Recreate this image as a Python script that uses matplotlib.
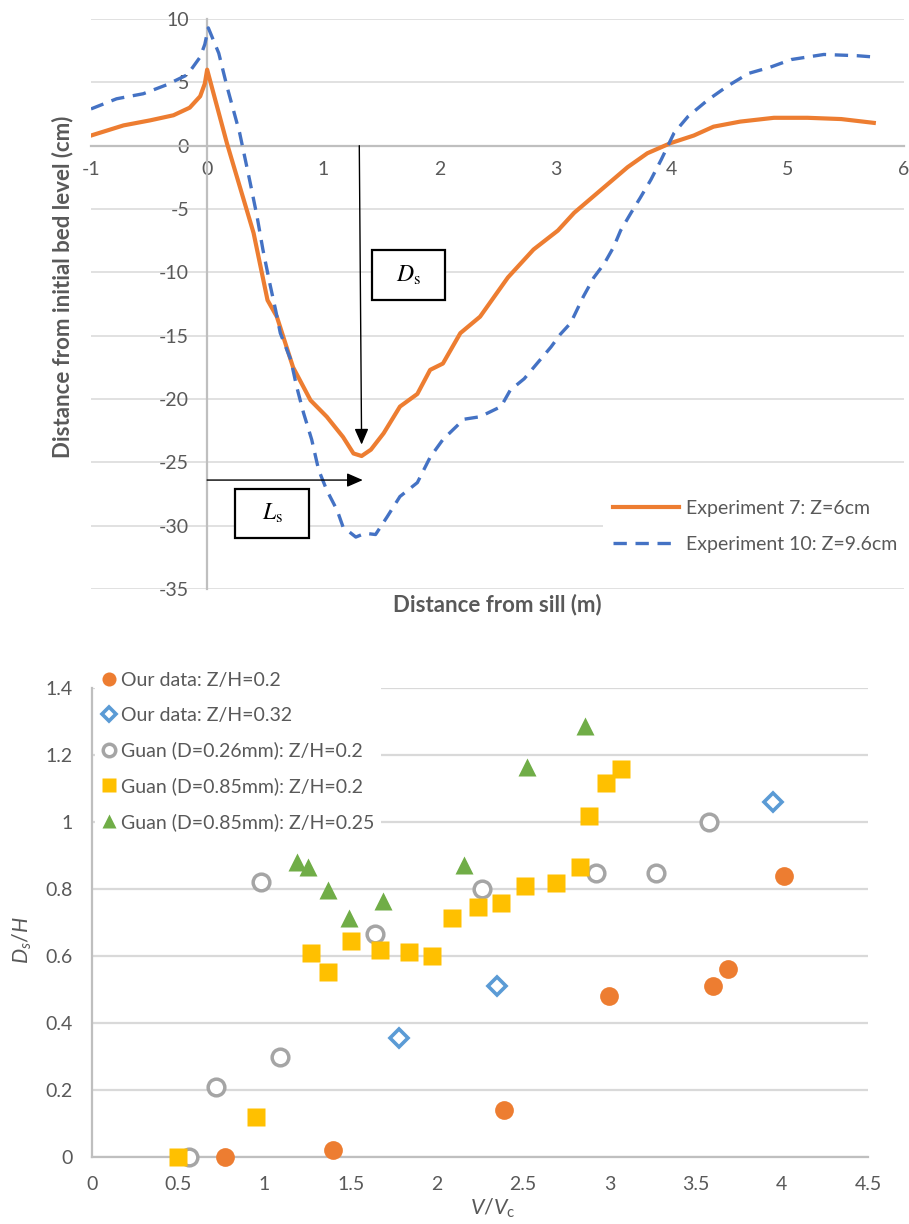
import matplotlib
matplotlib.use("Agg")
import matplotlib.pyplot as plt
from matplotlib.patches import Rectangle
from matplotlib.ticker import FuncFormatter

plt.rcParams['font.family'] = ['Lato', 'DejaVu Sans']
plt.rcParams['axes.unicode_minus'] = False
plt.rcParams['mathtext.fontset'] = 'custom'
plt.rcParams['mathtext.it'] = 'Lato:italic'
plt.rcParams['mathtext.rm'] = 'Lato'

TEXT = '#595959'
GRID = '#D9D9D9'
AXIS = '#BFBFBF'

# --- bed profiles (distance from sill in m, level in cm) ---
exp7_x = [-1.0, -0.72, -0.49, -0.29, -0.15, -0.06, -0.02, 0.0, 0.17, 0.40, 0.52, 0.60,
          0.74, 0.89, 1.03, 1.17, 1.26, 1.33, 1.41, 1.52, 1.66, 1.81, 1.92, 2.03, 2.18,
          2.35, 2.59, 2.81, 3.02, 3.16, 3.39, 3.62, 3.79, 3.99, 4.19, 4.36, 4.59, 4.88,
          5.17, 5.46, 5.74]
exp7_y = [0.8, 1.6, 2.0, 2.4, 3.0, 3.9, 4.9, 6.0, 0.2, -6.9, -12.2, -13.5,
          -17.5, -20.1, -21.4, -23.0, -24.3, -24.5, -24.0, -22.7, -20.6, -19.6, -17.7, -17.2, -14.8,
          -13.5, -10.4, -8.2, -6.7, -5.3, -3.5, -1.7, -0.6, 0.2, 0.8, 1.5, 1.9, 2.2,
          2.2, 2.1, 1.8]

exp10_x = [-1.0, -0.78, -0.55, -0.35, -0.17, -0.06, -0.02, 0.01, 0.10, 0.17, 0.28, 0.37,
           0.43, 0.48, 0.54, 0.59, 0.63, 0.72, 0.77, 0.83, 0.90, 0.96, 1.03, 1.12, 1.17,
           1.28, 1.36, 1.45, 1.55, 1.66, 1.81, 1.92, 2.03, 2.21, 2.35, 2.53, 2.61, 2.73,
           2.84, 2.96, 3.04, 3.13, 3.24, 3.33, 3.42, 3.50, 3.56, 3.65, 3.73, 3.82, 3.91,
           4.02, 4.14, 4.31, 4.48, 4.66, 4.85, 5.03, 5.31, 5.60, 5.74]
exp10_y = [2.9, 3.7, 4.1, 4.8, 5.6, 7.0, 8.0, 9.3, 7.3, 4.7, 1.0, -2.9,
           -5.6, -8.2, -10.9, -13.0, -14.8, -16.9, -19.0, -21.1, -23.2, -25.6, -27.2, -28.8, -30.1,
           -30.9, -30.6, -30.7, -29.3, -27.7, -26.6, -24.6, -23.2, -21.6, -21.4, -20.6, -19.3, -18.4,
           -17.2, -15.9, -14.9, -14.0, -11.9, -10.4, -9.3, -8.0, -6.7, -5.3, -4.1, -2.7, -1.1,
           1.0, 2.3, 3.6, 4.7, 5.7, 6.2, 6.8, 7.2, 7.1, 7.0]

# --- scour depth vs velocity ratio ---
our02_v = [0.77, 1.40, 2.39, 3.00, 3.60, 3.69, 4.01]
our02_d = [0.0, 0.02, 0.14, 0.48, 0.51, 0.56, 0.84]

our032_v = [1.78, 2.35, 3.95]
our032_d = [0.355, 0.51, 1.06]

guan026_v = [0.56, 0.72, 1.09, 0.98, 1.64, 2.26, 2.92, 3.27, 3.58]
guan026_d = [0.0, 0.21, 0.30, 0.82, 0.666, 0.80, 0.848, 0.848, 1.0]

guan085_v = [0.50, 0.95, 1.27, 1.37, 1.50, 1.67, 1.84, 1.97, 2.09, 2.24, 2.37, 2.51,
             2.69, 2.83, 2.88, 2.98, 3.07]
guan085_d = [0.0, 0.12, 0.61, 0.553, 0.645, 0.618, 0.613, 0.60, 0.713, 0.746, 0.758, 0.81,
             0.818, 0.866, 1.018, 1.117, 1.158]

guan085b_v = [1.19, 1.25, 1.37, 1.49, 1.69, 2.16, 2.52, 2.86]
guan085b_d = [0.88, 0.866, 0.797, 0.713, 0.764, 0.872, 1.164, 1.287]

W, H = 909, 1224
fig = plt.figure(figsize=(W / 100, H / 100), dpi=100)


def px_axes(x0, y0, x1, y1):
    return fig.add_axes([x0 / W, 1 - y1 / H, (x1 - x0) / W, (y1 - y0) / H])


# ---------------- top: bed profiles ----------------
ax1 = px_axes(91, 19, 904, 589)
ax1.set_xlim(-1, 6)
ax1.set_ylim(-35, 10)
ax1.set_xticks(range(-1, 7))
ax1.set_yticks(range(-35, 11, 5))
ax1.yaxis.grid(True, color=GRID, lw=1.1)
ax1.set_axisbelow(True)
for s in ['top', 'right']:
    ax1.spines[s].set_visible(False)
ax1.spines['left'].set_position(('data', 0))
ax1.spines['bottom'].set_position(('data', 0))
for s in ['left', 'bottom']:
    ax1.spines[s].set_color(AXIS)
    ax1.spines[s].set_linewidth(1.6)
ax1.tick_params(axis='both', length=0, labelsize=14, colors=TEXT)
ax1.tick_params(axis='y', pad=13)
ax1.tick_params(axis='x', pad=11)

ax1.plot(exp7_x, exp7_y, color='#ED7D31', lw=3.0, label='Experiment 7: Z=6cm', zorder=3)
ax1.plot(exp10_x, exp10_y, color='#4472C4', lw=2.4, dashes=(4, 2.6),
         label='Experiment 10: Z=9.6cm', zorder=3)

leg1 = ax1.legend(loc='center left', bbox_to_anchor=(0.63, 0.11), fontsize=14,
                  frameon=True, facecolor='white', edgecolor='none', framealpha=1,
                  handlelength=3.4, handletextpad=0.35, labelspacing=0.95,
                  borderpad=0.5, borderaxespad=0)
for t in leg1.get_texts():
    t.set_color(TEXT)

# depth and length annotations
arrow = dict(arrowstyle='-|>,head_length=0.8,head_width=0.35', color='black',
             lw=1.0, shrinkA=0, shrinkB=0, mutation_scale=12)
ax1.annotate('', xy=(1.33, -23.6), xytext=(1.31, 0.0), arrowprops=arrow, zorder=4)
ax1.annotate('', xy=(1.34, -26.4), xytext=(0.0, -26.4), arrowprops=arrow, zorder=4)

ax1.add_patch(Rectangle((1.42, -12.2), 0.63, 4.0, fill=True, facecolor='white',
                        edgecolor='black', lw=1.6, zorder=4))
ax1.text(1.735, -10.2, r'$D_\mathrm{s}$', math_fontfamily='stix', fontsize=17,
         ha='center', va='center', zorder=5)
ax1.add_patch(Rectangle((0.24, -31.0), 0.64, 3.9, fill=True, facecolor='white',
                        edgecolor='black', lw=1.6, zorder=4))
ax1.text(0.56, -29.05, r'$L_\mathrm{s}$', math_fontfamily='stix', fontsize=17,
         ha='center', va='center', zorder=5)

fig.text(63 / W, 1 - 287 / H, 'Distance from initial bed level (cm)', rotation=90,
         fontsize=16, fontweight='bold', color=TEXT, ha='center', va='center')
fig.text(497 / W, 1 - 605 / H, 'Distance from sill (m)', fontsize=16,
         fontweight='bold', color=TEXT, ha='center', va='center')

# ---------------- bottom: scour depth ----------------
ax2 = px_axes(92, 688, 868, 1157)
ax2.set_xlim(0, 4.5)
ax2.set_ylim(0, 1.4)
ax2.set_xticks([i * 0.5 for i in range(10)])
ax2.set_yticks([i * 0.2 for i in range(8)])
fmt = FuncFormatter(lambda v, p: f'{v:g}')
ax2.xaxis.set_major_formatter(fmt)
ax2.yaxis.set_major_formatter(fmt)
ax2.yaxis.grid(True, color=GRID, lw=1.6)
ax2.set_axisbelow(True)
for s in ['top', 'right']:
    ax2.spines[s].set_visible(False)
for s in ['left', 'bottom']:
    ax2.spines[s].set_color(AXIS)
    ax2.spines[s].set_linewidth(1.6)
ax2.tick_params(axis='both', length=0, labelsize=14, colors=TEXT)
ax2.tick_params(axis='y', pad=14)
ax2.tick_params(axis='x', pad=14)

ax2.plot(our02_v, our02_d, ls='none', marker='o', ms=13.5, mfc='#ED7D31', mec='none',
         label='Our data: Z/H=0.2', clip_on=False, zorder=3)
ax2.plot(our032_v, our032_d, ls='none', marker='D', ms=9.5, mfc='white', mec='#5B9BD5',
         mew=2.6, label='Our data: Z/H=0.32', clip_on=False, zorder=3)
ax2.plot(guan026_v, guan026_d, ls='none', marker='o', ms=12, mfc='white', mec='#A5A5A5',
         mew=2.5, label='Guan (D=0.26mm): Z/H=0.2', clip_on=False, zorder=3)
ax2.plot(guan085_v, guan085_d, ls='none', marker='s', ms=13, mfc='#FFC000', mec='none',
         label='Guan (D=0.85mm): Z/H=0.2', clip_on=False, zorder=3)
ax2.plot(guan085b_v, guan085b_d, ls='none', marker='^', ms=13.5, mfc='#70AD47', mec='none',
         label='Guan (D=0.85mm): Z/H=0.25', clip_on=False, zorder=3)

leg2 = ax2.legend(loc='upper left', bbox_to_anchor=(0.004, 1.047), fontsize=14,
                  frameon=True, facecolor='white', edgecolor='none', framealpha=1,
                  handlelength=0.8, handletextpad=0.25, labelspacing=0.92,
                  borderpad=0.3, borderaxespad=0, markerscale=0.75, numpoints=1)
for t in leg2.get_texts():
    t.set_color(TEXT)

fig.text(22 / W, 1 - 940 / H, r'$D_s/H$', rotation=90, fontsize=15.5, color=TEXT,
         ha='center', va='center')
fig.text(493 / W, 1 - 1208 / H, r'$V/V_\mathrm{c}$', fontsize=15.5, color=TEXT,
         ha='center', va='center')

fig.savefig('out.png', dpi=100, facecolor='white')
